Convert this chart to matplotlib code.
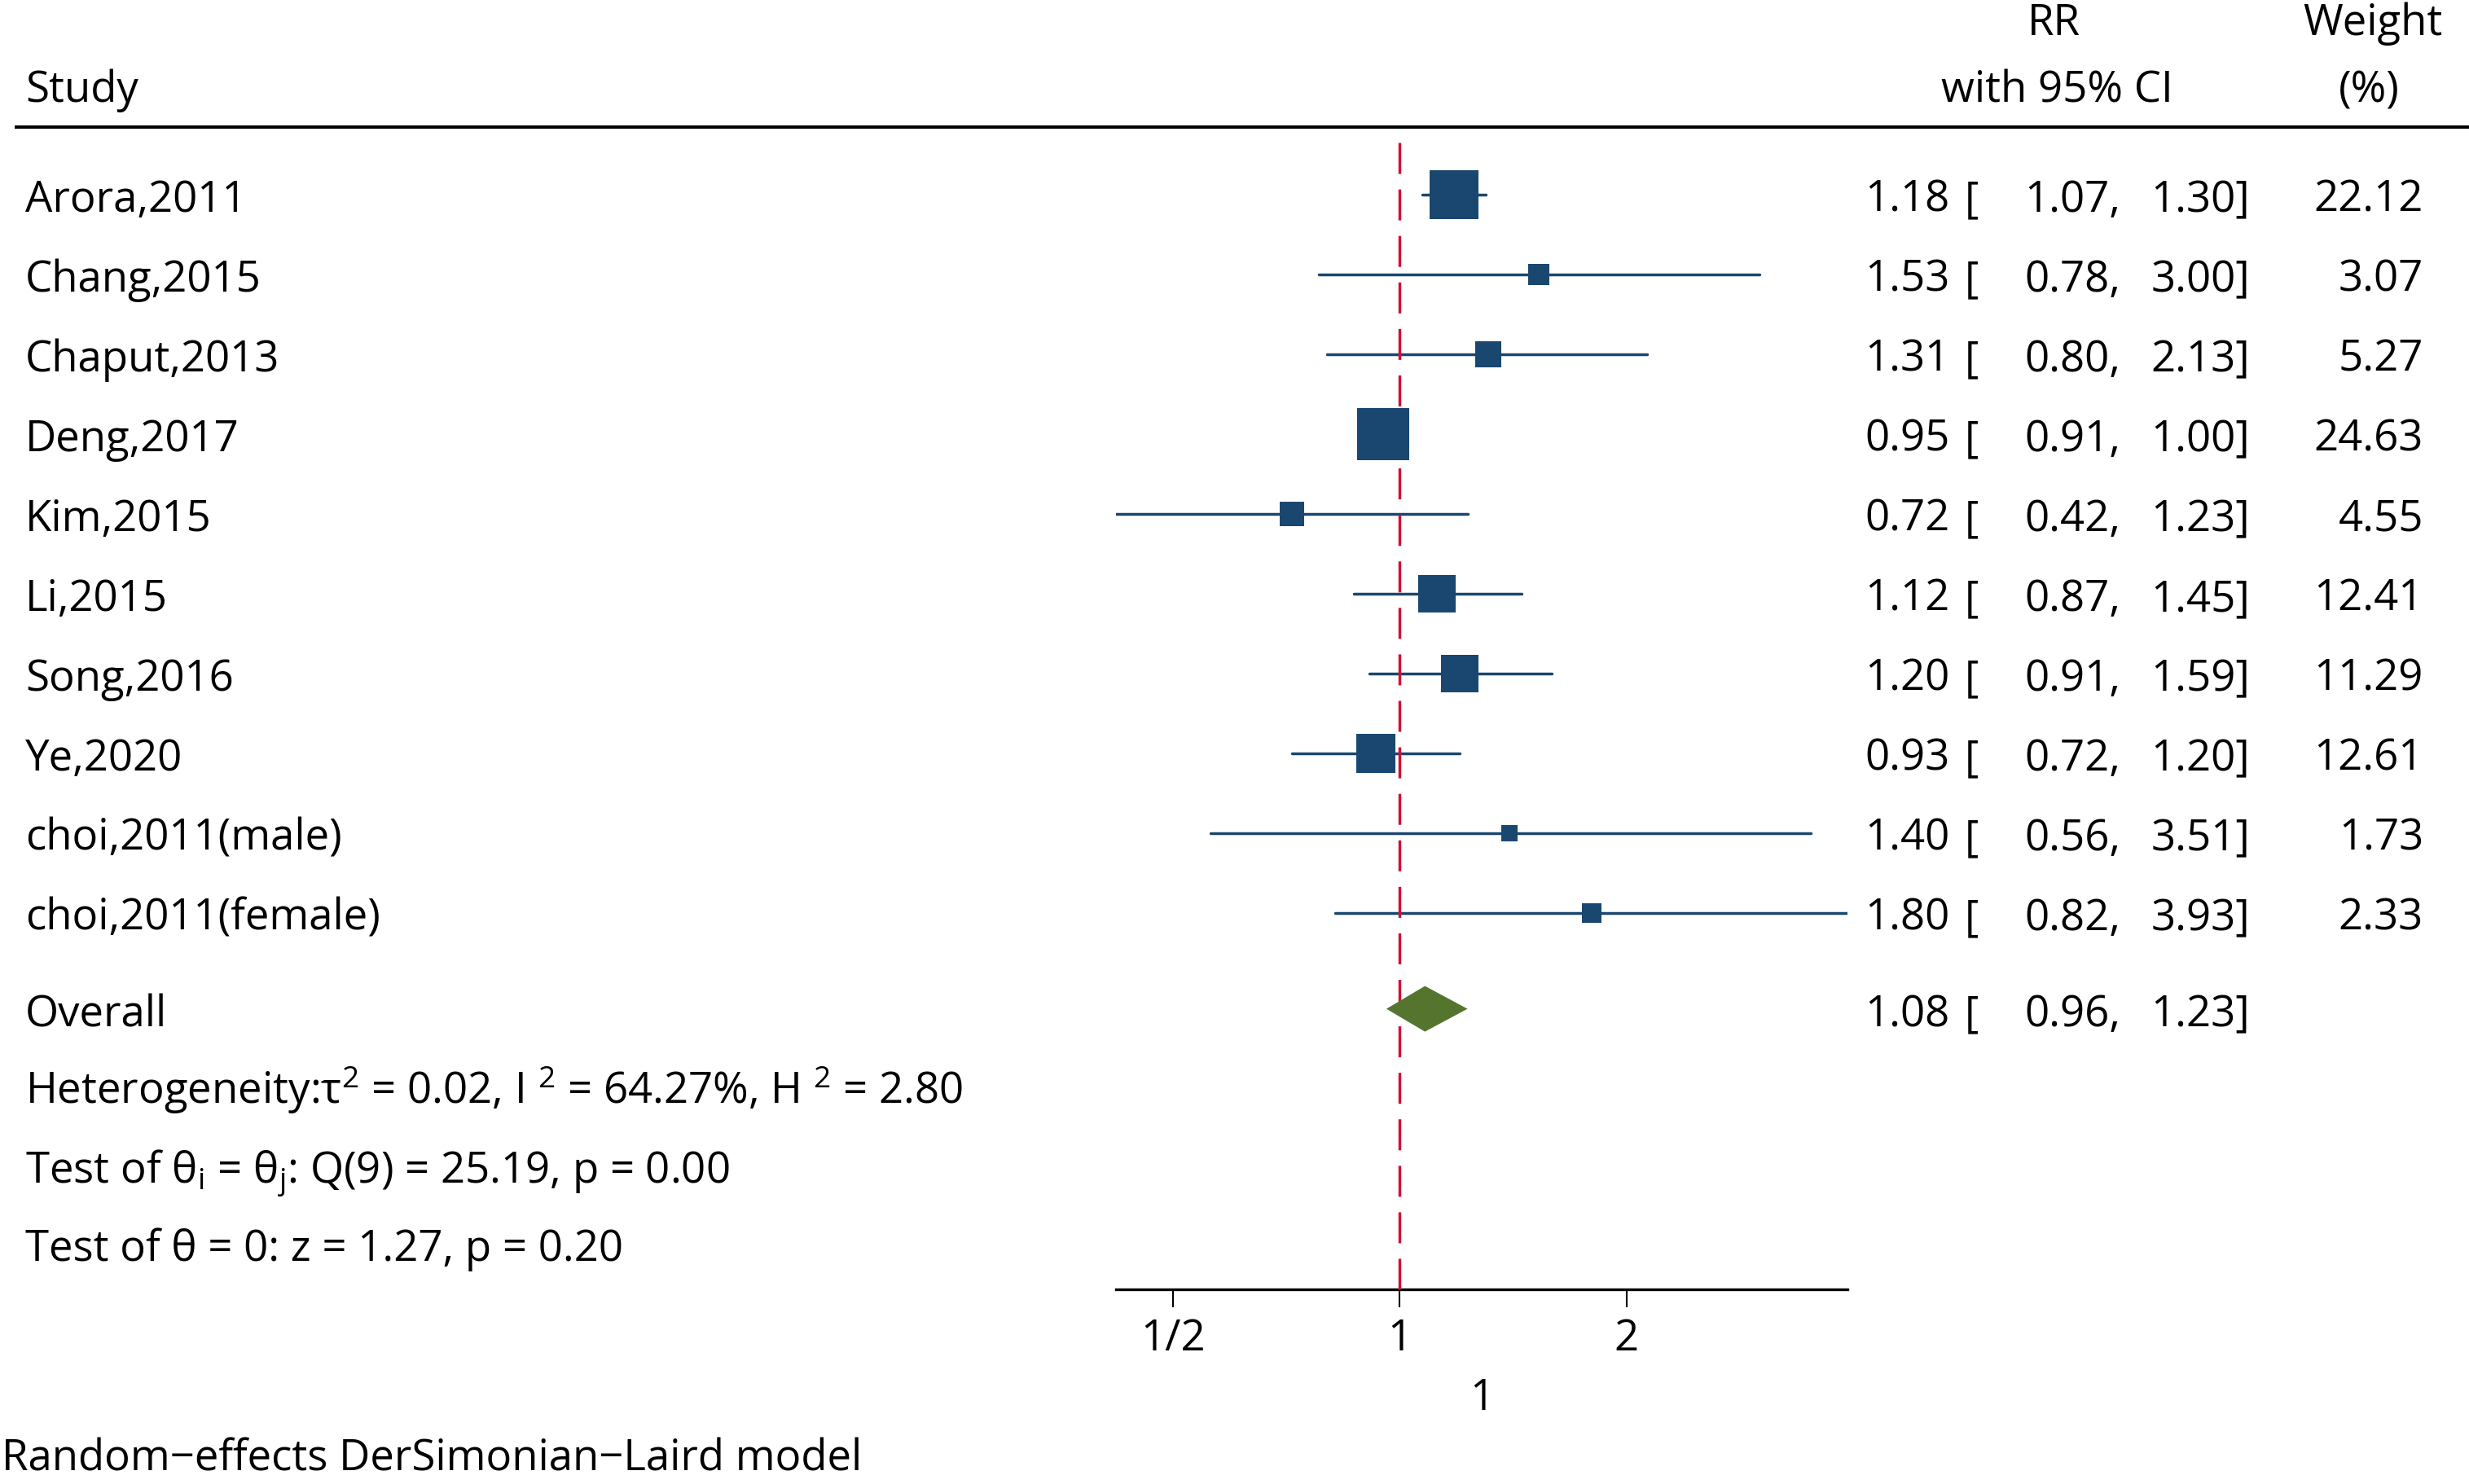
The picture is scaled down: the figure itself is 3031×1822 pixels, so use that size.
import matplotlib
matplotlib.use("Agg")
import matplotlib.pyplot as plt
import matplotlib.transforms as mtransforms
from matplotlib.patches import Polygon
from matplotlib.ticker import NullLocator
import numpy as np

# study level data
studies = ["Arora,2011", "Chang,2015", "Chaput,2013", "Deng,2017", "Kim,2015",
           "Li,2015", "Song,2016", "Ye,2020", "choi,2011(male)", "choi,2011(female)"]
rr = [1.18, 1.53, 1.31, 0.95, 0.72, 1.12, 1.20, 0.93, 1.40, 1.80]
ci_lo = [1.07, 0.78, 0.80, 0.91, 0.42, 0.87, 0.91, 0.72, 0.56, 0.82]
ci_hi = [1.30, 3.00, 2.13, 1.00, 1.23, 1.45, 1.59, 1.20, 3.51, 3.93]
weights = [22.12, 3.07, 5.27, 24.63, 4.55, 12.41, 11.29, 12.61, 1.73, 2.33]

overall_rr = 1.08
overall_lo = 0.96
overall_hi = 1.23

stat_lines = [
    r"Heterogeneity:τ$^2$ = 0.02, I $^2$ = 64.27%, H $^2$ = 2.80",
    r"Test of θ$_{i}$ = θ$_{j}$: Q(9) = 25.19, p = 0.00",
    r"Test of θ = 0: z = 1.27, p = 0.20",
]
tick_vals = [0.5, 1, 2]
tick_labels = ["1/2", "1", "2"]

NAVY = "#1A476F"
GREEN = "#55752F"
RED = "#CF1237"
FS = 38

plt.rcParams['font.family'] = ['Open Sans', 'DejaVu Sans']
plt.rcParams['mathtext.default'] = 'regular'

W, H = 3031, 1822
fig = plt.figure(figsize=(W / 100, H / 100), dpi=100)
ROW0, ROWH = 239.0, 98.0   # pixel centre of first row and row spacing


def px(x):
    return x / W


# forest axes: spans the plot column, rows in data units top -> bottom
ax = fig.add_axes([px(1370), 0, px(898), 1])
ax.set_xscale('log', base=2)
ax.set_xlim(min(ci_lo), max(ci_hi))
ax.set_ylim((H - ROW0) / ROWH, -ROW0 / ROWH)
ax.patch.set_alpha(0)

rows = np.arange(len(studies))
ov_row = 10.2
axis_row = (1583 - ROW0) / ROWH
head_row = (156 - ROW0) / ROWH

ax.hlines(rows, ci_lo, ci_hi, colors=NAVY, lw=2.5, capstyle='round', zorder=2)
ax.vlines(1, (175 - ROW0) / ROWH, axis_row, colors=RED, lw=2.5,
          linestyles=(0, (27.4 / 2.5, 13.7 / 2.5)), zorder=3)
for r, x, w in zip(rows, rr, weights):
    side = (5.3 + 11.83 * np.sqrt(w)) * 0.72
    ax.plot(x, r, marker='s', ms=side, color=NAVY, mew=0, zorder=4)

dh = 28 / ROWH
ax.add_patch(Polygon([(overall_lo, ov_row), (overall_rr, ov_row - dh),
                      (overall_hi, ov_row), (overall_rr, ov_row + dh)],
                     closed=True, facecolor=GREEN, edgecolor='none', zorder=5))

for s in ['top', 'left', 'right']:
    ax.spines[s].set_visible(False)
ax.spines['bottom'].set_position(('data', axis_row))
ax.spines['bottom'].set_linewidth(2.4)
ax.set_yticks([])
ax.set_xticks(tick_vals)
ax.set_xticklabels(tick_labels)
ax.xaxis.set_minor_locator(NullLocator())
ax.tick_params(axis='x', direction='out', length=15.8, width=1.5, pad=9, labelsize=FS)
ax.set_xlabel("1", fontsize=FS, labelpad=14)

# text columns share the row scale of the forest axes
tr = mtransforms.blended_transform_factory(fig.transFigure, ax.transData)
base = 21 / ROWH

ax.text(px(31), -1.16, "Study", transform=tr, fontsize=FS, va='baseline')
ax.text(px(2521), -2.0, "RR", transform=tr, fontsize=FS, va='baseline', ha='center')
ax.text(px(2525), -1.16, "with 95% CI", transform=tr, fontsize=FS, va='baseline', ha='center')
ax.text(px(2913), -2.0, "Weight", transform=tr, fontsize=FS, va='baseline', ha='center')
ax.text(px(2908), -1.16, "(%)", transform=tr, fontsize=FS, va='baseline', ha='center')
ax.plot([px(18), 1], [head_row, head_row], transform=tr, color='black', lw=2.9,
        clip_on=False, solid_capstyle='butt')


def ci_text(r, x, lo, hi):
    ax.text(px(2394), r, f"{x:.2f}", transform=tr, fontsize=FS, va='baseline', ha='right')
    ax.text(px(2412), r, "[", transform=tr, fontsize=FS, va='baseline', ha='left')
    ax.text(px(2603), r, f"{lo:.2f},", transform=tr, fontsize=FS, va='baseline', ha='right')
    ax.text(px(2762), r, f"{hi:.2f}]", transform=tr, fontsize=FS, va='baseline', ha='right')


for r, name, x, lo, hi, w in zip(rows, studies, rr, ci_lo, ci_hi, weights):
    ax.text(px(31), r + base, name, transform=tr, fontsize=FS, va='baseline')
    ci_text(r + base, x, lo, hi)
    ax.text(px(2975), r + base, f"{w:.2f}", transform=tr, fontsize=FS, va='baseline', ha='right')

ax.text(px(31), 10.42, "Overall", transform=tr, fontsize=FS, va='baseline')
ci_text(10.42, overall_rr, overall_lo, overall_hi)

for r, s in zip([11.39, 12.38, 13.36], stat_lines):
    ax.text(px(31), r, s, transform=tr, fontsize=FS, va='baseline')

ax.text(px(2), (1806 - ROW0) / ROWH, "Random\u2212effects DerSimonian\u2212Laird model",
        transform=tr, fontsize=FS, va='baseline')

fig.savefig("out.png", dpi=100)
